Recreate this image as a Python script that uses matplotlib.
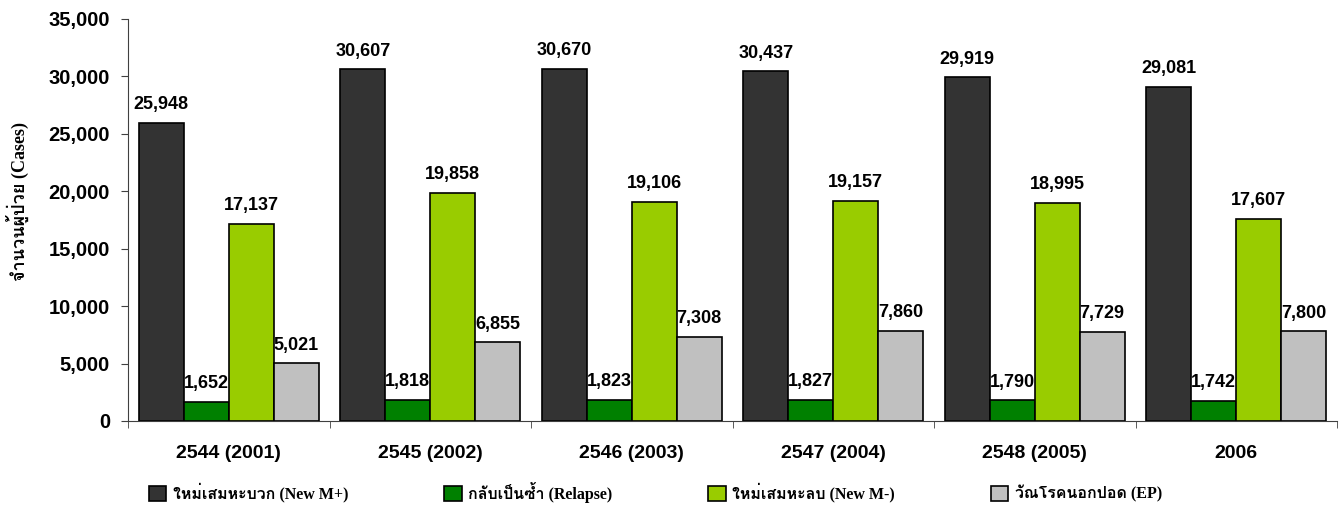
import numpy as np
import matplotlib
matplotlib.use('Agg')
import matplotlib.pyplot as plt
from matplotlib import font_manager, ft2font

# data
groups = ['2544 (2001)', '2545 (2002)', '2546 (2003)', '2547 (2004)', '2548 (2005)', '2006']
new_pos = [25948, 30607, 30670, 30437, 29919, 29081]
relapse = [1652, 1818, 1823, 1827, 1790, 1742]
new_neg = [17137, 19858, 19106, 19157, 18995, 17607]
ep = [5021, 6855, 7308, 7860, 7729, 7800]

series_names = ['ใหม่เสมหะบวก (New M+)', 'กลับเป็นซ้ำ (Relapse)',
                'ใหม่เสมหะลบ (New M-)', 'วัณโรคนอกปอด (EP)']
colors = ['#333333', '#008000', '#99CC00', '#C0C0C0']

# look for any installed font that has Thai glyphs
thai_fonts = []
for f in font_manager.fontManager.ttflist:
    try:
        cmap = ft2font.FT2Font(f.fname).get_charmap()
        if 0x0E08 in cmap and f.name not in thai_fonts:
            thai_fonts.append(f.name)
    except Exception:
        pass

serif_fam = ['Liberation Serif'] + thai_fonts + ['DejaVu Sans']
sans_fam = ['Liberation Sans', 'DejaVu Sans']

fig, ax = plt.subplots(figsize=(13.44, 5.13), dpi=100)
fig.subplots_adjust(left=128 / 1344, right=1337 / 1344, top=1 - 19 / 513, bottom=1 - 421 / 513)

x = np.arange(len(groups))
w = 0.223
all_series = [new_pos, relapse, new_neg, ep]
for i, vals in enumerate(all_series):
    pos = x + (i - 1.5) * w
    bars = ax.bar(pos, vals, w, color=colors[i], edgecolor='black', linewidth=1.2,
                  label=series_names[i])
    for b, v in zip(bars, vals):
        ax.text(b.get_x() + b.get_width() / 2, v + 850, f'{v:,}', ha='center', va='bottom',
                fontsize=13, fontweight='bold', family=sans_fam)

ax.set_ylim(0, 35000)
ax.set_xlim(-0.5, 5.5)
ax.set_yticks(range(0, 35001, 5000))
ax.set_yticklabels([f'{v:,}' for v in range(0, 35001, 5000)], fontsize=14.5,
                   fontweight='bold', family=sans_fam)
ax.set_xticks(x)
ax.set_xticklabels(groups, fontsize=14, fontweight='bold', family=sans_fam)
ax.tick_params(axis='x', length=0, pad=17)
ax.set_xticks(np.arange(-0.5, 5.6, 1), minor=True)
ax.tick_params(axis='x', which='minor', length=5, color='#404040')
ax.tick_params(axis='y', length=5, color='#404040', pad=8)

for s in ['top', 'right']:
    ax.spines[s].set_visible(False)
ax.spines['left'].set_color('#404040')
ax.spines['bottom'].set_color('#404040')

ax.set_ylabel('จำนวนผู้ป่วย (Cases)', fontsize=13, fontweight='bold', family=serif_fam)
ax.yaxis.set_label_coords(-0.082, 0.545)

leg = ax.legend(loc='upper left', bbox_to_anchor=(0.012, -0.135), ncol=4, frameon=False,
                prop={'family': serif_fam, 'weight': 'bold', 'size': 11.5},
                handlelength=1.1, handleheight=1.1, columnspacing=6.0, handletextpad=0.4,
                borderaxespad=0)
for h in leg.legend_handles:
    h.set_linewidth(1.2)

plt.savefig('out.png', dpi=100)
plt.close()
